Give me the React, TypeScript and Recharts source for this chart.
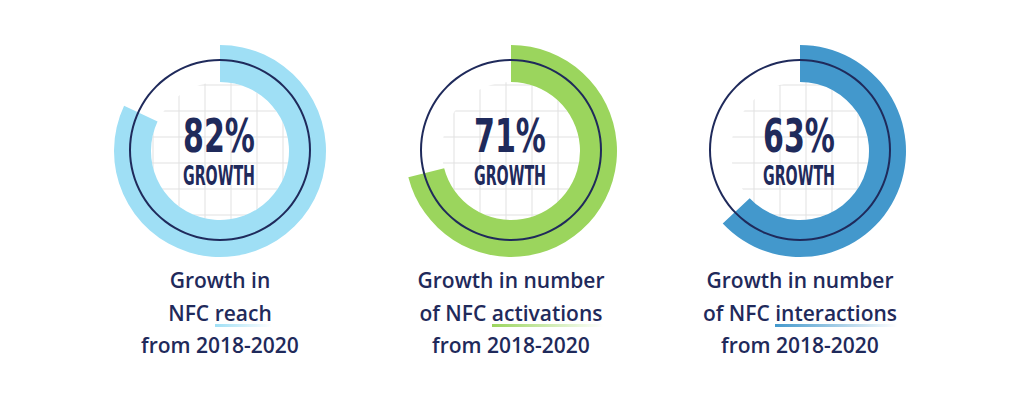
import { PieChart, Pie, Cell } from "recharts";

// growth from 2018 to 2020, in percent
const metrics = ["NFC reach", "NFC activations", "NFC interactions"];
const growthValues = [82, 71, 63];
const ringColors = ["#9fdff5", "#9bd55d", "#4398cc"];

const captionFirst = ["Growth in", "Growth in number", "Growth in number"];
const captionLead = ["NFC", "of NFC", "of NFC"];
const captionWord = ["reach", "activations", "interactions"];
const captionLast = "from 2018-2020";

const NAVY = "#1f2a5b";
const W = 1024;
const H = 399;
const centersX = [220, 511, 800];
const CY = 151;
const gridShift = [11, 21, 6];

function Grid({ cx, shift }: { cx: number; shift: number }) {
  const xs = [-3, -2, -1, 0, 1, 2].map((k) => cx + shift + 26 * k);
  const ys = [-3, -2, -1, 0, 1, 2].map((k) => CY + 12 + 26 * k);
  return (
    <g clipPath={`url(#clip-${cx})`} stroke="#e1e1e1" strokeWidth={1}>
      {xs.map((x) => (
        <line key={`v${x}`} x1={x} x2={x} y1={CY - 80} y2={CY + 80} />
      ))}
      {ys.map((y) => (
        <line key={`h${y}`} x1={cx - 80} x2={cx + 80} y1={y} y2={y} />
      ))}
    </g>
  );
}

export default function App() {
  return (
    <div
      style={{
        position: "absolute",
        left: 0,
        top: 0,
        width: W,
        height: H,
        background: "#fff",
        overflow: "hidden",
      }}
    >
      <svg width={W} height={H} style={{ position: "absolute", left: 0, top: 0 }}>
        <defs>
          {centersX.map((cx) => (
            <clipPath key={cx} id={`clip-${cx}`}>
              <circle cx={cx} cy={CY} r={69} />
            </clipPath>
          ))}
        </defs>
        {centersX.map((cx, i) => (
          <Grid key={cx} cx={cx} shift={gridShift[i]} />
        ))}
      </svg>

      <div style={{ position: "absolute", left: 0, top: 0 }}>
        <PieChart width={W} height={H} margin={{ top: 0, right: 0, bottom: 0, left: 0 }}>
          {growthValues.map((v, i) => (
            <Pie
              key={metrics[i]}
              data={[
                { name: metrics[i], value: v },
                { name: "rest", value: 100 - v },
              ]}
              dataKey="value"
              cx={centersX[i]}
              cy={CY}
              innerRadius={69}
              outerRadius={106}
              startAngle={90}
              endAngle={-270}
              stroke="none"
              isAnimationActive={false}
            >
              <Cell fill={ringColors[i]} />
              <Cell fill="transparent" />
            </Pie>
          ))}
          {growthValues.map((_, i) => (
            <Pie
              key={`outline-${metrics[i]}`}
              data={[{ name: "outline", value: 100 }]}
              dataKey="value"
              cx={centersX[i]}
              cy={CY - 1}
              innerRadius={89}
              outerRadius={91}
              startAngle={90}
              endAngle={-270}
              stroke="none"
              fill={NAVY}
              isAnimationActive={false}
            />
          ))}
        </PieChart>
      </div>

      <svg width={W} height={H} style={{ position: "absolute", left: 0, top: 0 }}>
        {growthValues.map((v, i) => (
          <g
            key={metrics[i]}
            fill={NAVY}
            fontFamily="'Liberation Sans Narrow', 'DejaVu Sans Condensed', sans-serif"
            fontWeight={700}
            textAnchor="middle"
          >
            <text
              x={centersX[i] - 1}
              y={152}
              fontSize={46}
              textLength={72}
              lengthAdjust="spacingAndGlyphs"
            >
              {`${v}%`}
            </text>
            <text
              x={centersX[i] - 1}
              y={185}
              fontSize={26}
              textLength={72}
              lengthAdjust="spacingAndGlyphs"
            >
              GROWTH
            </text>
          </g>
        ))}
      </svg>

      {captionWord.map((word, i) => (
        <div
          key={word}
          style={{
            position: "absolute",
            left: centersX[i] - 150,
            top: 264,
            width: 300,
            textAlign: "center",
            fontFamily: "'Open Sans', sans-serif",
            fontWeight: 600,
            fontSize: 21,
            lineHeight: "32.5px",
            color: NAVY,
          }}
        >
          <div>{captionFirst[i]}</div>
          <div>
            {captionLead[i]}{" "}
            <span
              style={{
                backgroundImage: `linear-gradient(to right, ${ringColors[i]}, rgba(255,255,255,0))`,
                backgroundSize: "100% 3px",
                backgroundRepeat: "no-repeat",
                backgroundPosition: "0 100%",
              }}
            >
              {word}
            </span>
          </div>
          <div>{captionLast}</div>
        </div>
      ))}
    </div>
  );
}
